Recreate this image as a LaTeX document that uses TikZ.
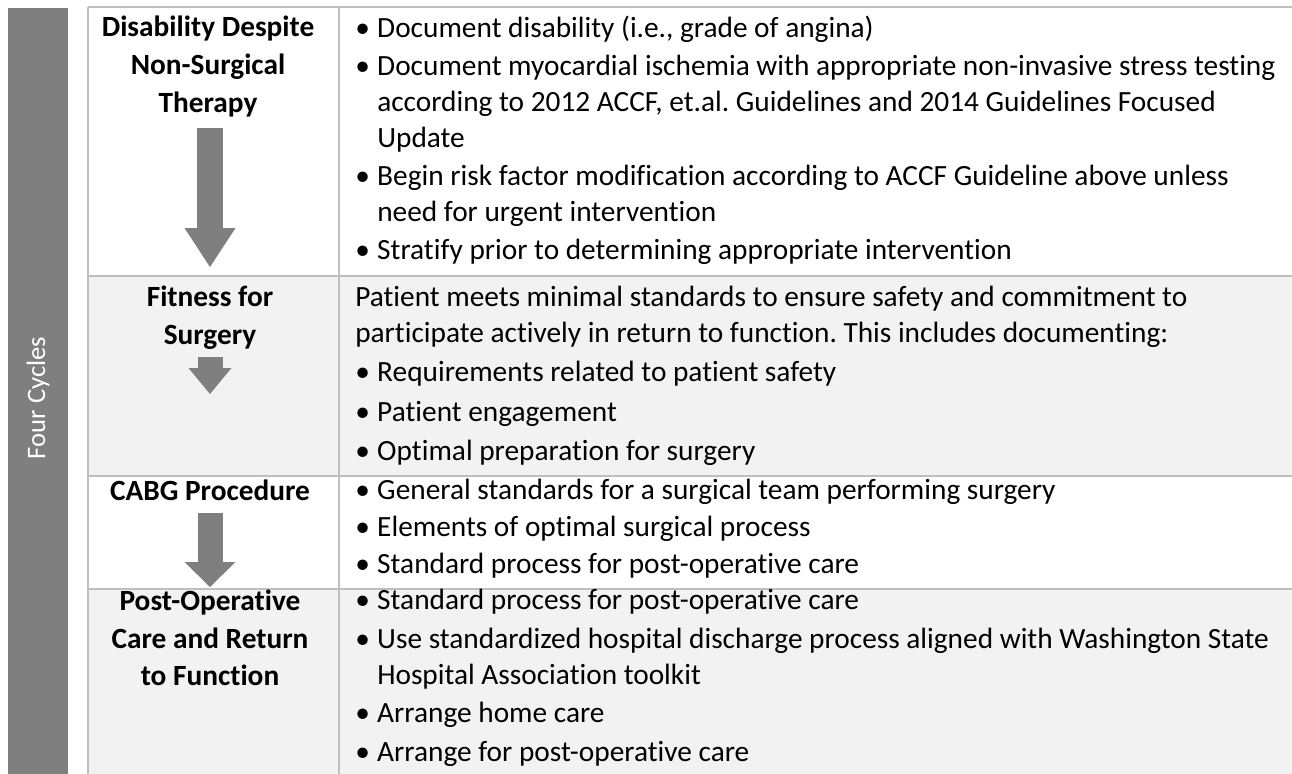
\documentclass[tikz,border=0pt]{standalone}
\usepackage{fontspec}
\setmainfont{Carlito}[Ligatures=NoCommon]
\usetikzlibrary{arrows.meta}
\definecolor{bargray}{HTML}{7F7F7F}
\definecolor{rulegray}{HTML}{BFBFBF}
\definecolor{rowshade}{HTML}{F2F2F2}
\newcommand{\bul}{\makebox[16.5pt][l]{\textbullet}}
\newcommand{\ind}{\hspace*{16.5pt}}
\frenchspacing

\begin{document}
\begin{tikzpicture}[x=0.75pt,y=-0.75pt,
  head node/.style={font=\fontsize{22}{28.5}\selectfont\bfseries,align=center,inner sep=0,anchor=north},
  text node/.style={font=\fontsize{22}{27}\selectfont,align=left,inner sep=0,anchor=north west},
  big arrow/.style={draw=bargray,line width=#1}]
  \useasboundingbox (0,0) rectangle (1292,774);
  \fill[rowshade] (88,276) rectangle (1292,476);
  \fill[rowshade] (88,589) rectangle (1292,774);
  \fill[bargray] (8,8) rectangle (68,774);
  \node[rotate=90,text=white,font=\fontsize{20}{24}\selectfont] (side) at (38,398) {Four Cycles};
  \draw[rulegray,line width=1.1pt] (88,7) -- (1292,7) (88,276) -- (1292,276) (88,476) -- (1292,476)
    (88,589) -- (1292,589) (88,7) -- (88,774) (339,7) -- (339,774);

  \node[head node] (h1) at (208,16) {Disability Despite\\Non-Surgical\\Therapy};
  \node[head node] (h2) at (210,286) {Fitness for\\Surgery};
  \node[head node] (h3) at (210,480) {CABG Procedure};
  \node[head node,font=\fontsize{22}{28}\selectfont\bfseries] (h4) at (210,590) {Post-Operative\\Care and Return\\to Function};

  \coordinate (s1) at (210,128); \coordinate (e1) at (210,267);
  \coordinate (s2) at (210,357); \coordinate (e2) at (210,394);
  \coordinate (s3) at (210,513); \coordinate (e3) at (210,587);
  \path (s1) edge[big arrow=19.5pt,-{Triangle[width=38.25pt,length=29.25pt,line width=0pt]}] (e1)
        (s2) edge[big arrow=18.75pt,-{Triangle[width=32.25pt,length=19.5pt,line width=0pt]}] (e2)
        (s3) edge[big arrow=18.75pt,-{Triangle[width=38.25pt,length=18.75pt,line width=0pt]}] (e3);

  \node[text node] (t1) at (355,16) {\bul Document disability (i.e., grade of angina)\\[1.5pt]
    \bul Document myocardial ischemia with appropriate non-invasive stress testing\\
    \ind according to 2012 ACCF, et.al. Guidelines and 2014 Guidelines Focused\\
    \ind Update\\[1.5pt]
    \bul Begin risk factor modification according to ACCF Guideline above unless\\
    \ind need for urgent intervention\\[1.5pt]
    \bul Stratify prior to determining appropriate intervention};
  \node[text node] (t2) at (355,286) {Patient meets minimal standards to ensure safety and commitment to\\
    participate actively in return to function. This includes documenting:\\[2.5pt]
    \bul Requirements related to patient safety\\[2.5pt]
    \bul Patient engagement\\[2.5pt]
    \bul Optimal preparation for surgery};
  \node[text node] (t3) at (355,479) {\bul General standards for a surgical team performing surgery\\[0.75pt]
    \bul Elements of optimal surgical process\\[0.75pt]
    \bul Standard process for post-operative care};
  \node[text node] (t4) at (355,589) {\bul Standard process for post-operative care\\[2pt]
    \bul Use standardized hospital discharge process aligned with Washington State\\
    \ind Hospital Association toolkit\\[2pt]
    \bul Arrange home care\\[2pt]
    \bul Arrange for post-operative care};
\end{tikzpicture}
\end{document}
